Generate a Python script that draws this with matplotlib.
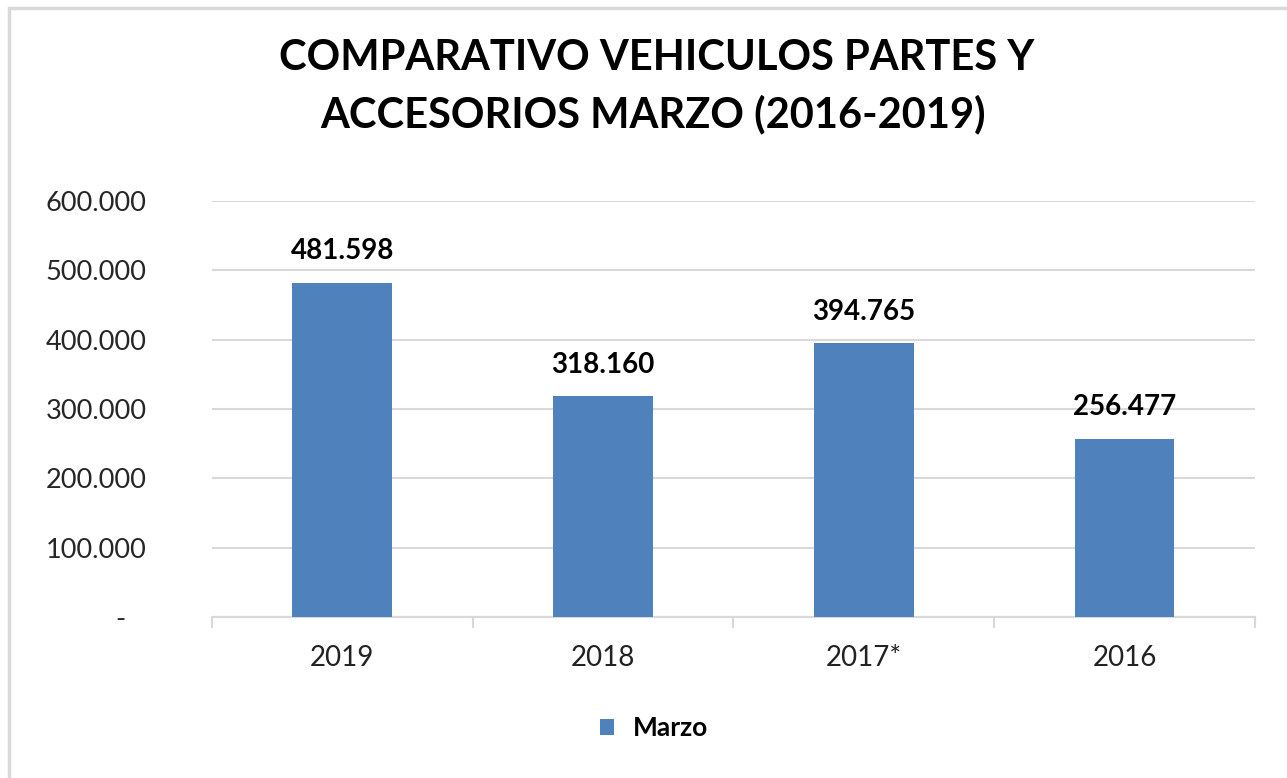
import numpy as np
import matplotlib.pyplot as plt
from matplotlib.patches import Rectangle
from matplotlib.ticker import FuncFormatter

# datos del grafico
years = ['2019', '2018', '2017*', '2016']
marzo = [481598, 318160, 394765, 256477]
y_ticks = [0, 100000, 200000, 300000, 400000, 500000, 600000]

plt.rcParams['font.family'] = ['Lato', 'DejaVu Sans']

fig = plt.figure(figsize=(12.87, 7.78), dpi=100)
ax = fig.add_axes([0.1647, 0.2069, 0.8103, 0.5347])

x = np.arange(len(years))
bars = ax.bar(x, marzo, width=0.383, color='#4F81BD', label='Marzo', zorder=3)

def miles(v, pos):
    if v == 0:
        return '-   '
    return f'{int(v):,}'.replace(',', '.')

for b, v in zip(bars, marzo):
    ax.text(b.get_x() + b.get_width() / 2, v + 27000, miles(v, None),
            ha='center', va='bottom', fontsize=20, fontweight='bold', color='#000000')

ax.set_xlim(-0.5, len(years) - 0.5)
ax.set_ylim(0, 600000)
ax.set_yticks(y_ticks)
ax.yaxis.set_major_formatter(FuncFormatter(miles))
ax.set_xticks(x)
ax.set_xticklabels(years)
ax.set_xticks(np.arange(len(years) + 1) - 0.5, minor=True)
ax.tick_params(axis='x', which='major', length=0, labelsize=20, pad=20, colors='#222222')
ax.tick_params(axis='x', which='minor', length=8, width=1.5, color='#D9D9D9', direction='out')
ax.tick_params(axis='y', length=0, labelsize=19.5, pad=47, colors='#262626')
for lab in ax.get_yticklabels():
    lab.set_horizontalalignment('right')

ax.grid(axis='y', color='#D9D9D9', linewidth=1.5, zorder=0)
for s in ['top', 'right', 'left']:
    ax.spines[s].set_visible(False)
ax.spines['bottom'].set_color('#D9D9D9')
ax.spines['bottom'].set_linewidth(1.5)

# titulo en dos lineas
fig.text(0.51, 0.910, 'COMPARATIVO VEHICULOS PARTES Y',
         ha='center', va='baseline', fontsize=30, fontweight='bold')
fig.text(0.507, 0.8368, 'ACCESORIOS MARZO (2016-2019)',
         ha='center', va='baseline', fontsize=30, fontweight='bold')

leg = fig.legend(loc='center', bbox_to_anchor=(0.508, 0.064), frameon=False,
                 handlelength=0.55, handleheight=0.55, handletextpad=0.7,
                 prop={'size': 19, 'weight': 'bold'})

# borde del grafico
fig.patches.append(Rectangle((9 / 1287, -0.1), 1.2, 1.1 - 8 / 778,
                             transform=fig.transFigure, fill=False,
                             edgecolor='#D9D9D9', linewidth=2.5))

fig.savefig('out.png', dpi=100)
